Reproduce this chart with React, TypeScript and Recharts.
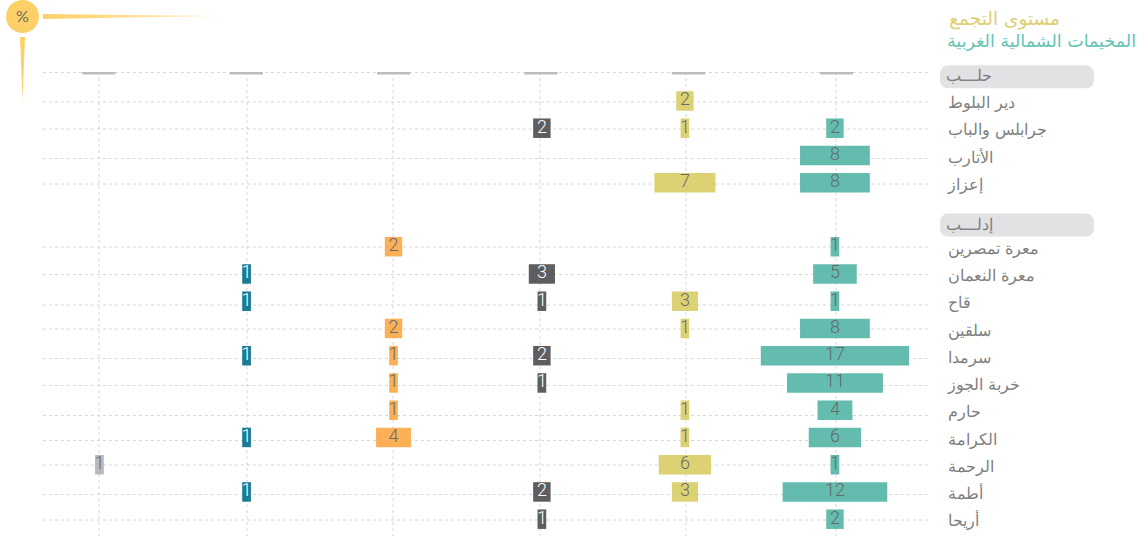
import { Bar, BarChart, CartesianGrid, LabelList, ReferenceLine, XAxis, YAxis } from "recharts";

const rowNames = [
  "حلـــب",
  "دير البلوط",
  "جرابلس والباب",
  "الأتارب",
  "إعزاز",
  "إدلـــب",
  "معرة تمصرين",
  "معرة النعمان",
  "قاح",
  "سلقين",
  "سرمدا",
  "خربة الجوز",
  "حارم",
  "الكرامة",
  "الرحمة",
  "أطمة",
  "أريحا"
];
const headerNames = ["حلـــب", "إدلـــب"];
const rowPositions = [0, 1, 2, 3, 4, 5.44, 6.35, 7.35, 8.35, 9.35, 10.35, 11.35, 12.35, 13.35, 14.35, 15.35, 16.35];

const column1 = [null, null, null, null, null, null, null, null, null, null, null, null, null, null, 1, null, null];
const column2 = [null, null, null, null, null, null, null, 1, 1, null, 1, null, null, 1, null, 1, null];
const column3 = [null, null, null, null, null, null, 2, null, null, 2, 1, 1, 1, 4, null, null, null];
const column4 = [null, null, 2, null, null, null, null, 3, 1, null, 2, 1, null, null, null, 2, 1];
const column5 = [null, 2, 1, null, 7, null, null, null, 3, 1, null, null, 1, 1, 6, 3, null];
const column6 = [null, null, 2, 8, 8, null, 1, 5, 1, 8, 17, 11, 4, 6, 1, 12, 2];
const columns = [column1, column2, column3, column4, column5, column6];

const columnColors = ["#b9b9bb", "#1b7b93", "#fbb058", "#5e5e60", "#dcd274", "#64bcae"];
const labelColors = ["#6a6a6a", "#ffffff", "#6a6a6a", "#ffffff", "#6a6a6a", "#626a6a"];

// centre of each small multiple, in x units (one unit = one camp)
const columnCenters = [6.47, 23.34, 40.19, 57.2, 73.6, 90.8];
const headerCenters = [6.4, 23.3, 40.2, 57.1, 74, 91];
const headerWidth = 3.8;

const gridRows = [72.5, 102, 129, 158.5, 184, 247, 274.5, 305, 329, 358.5, 385.5, 415.5, 440.5, 465, 494.5, 520];
const gridColumns = [99, 247, 393, 540, 686, 836];

const table = rowNames.map((name, i) => {
  const entry: Record<string, unknown> = { name, row: rowPositions[i] };
  columns.forEach((col, c) => {
    const v = col[i];
    entry[`v${c}`] = v;
    entry[`r${c}`] = v == null ? null : [columnCenters[c] - v / 2, columnCenters[c] + v / 2];
  });
  return entry;
});

const yDomain: [number, number] = [-0.05, 16.98];
const textFont = "'DejaVu Sans', 'Noto Sans', sans-serif";

function RowTick({ y, payload }: any) {
  const name = rowNames[rowPositions.indexOf(payload.value)];
  const isHeader = headerNames.includes(name);
  return (
    <g>
      {isHeader && <rect x={940} y={y - 8} width={154} height={23} rx={8} fill="#e2e2e4" />}
      <text
        x={isHeader ? 946 : 948}
        y={isHeader ? y + 8 : y + 7.5}
        textAnchor="start"
        fontSize={15.5}
        fontFamily={textFont}
        fontWeight={200}
        fill="#7f7f7f"
      >
        {name}
      </text>
    </g>
  );
}

export default function App() {
  return (
    <div style={{ position: "absolute", left: 0, top: 0, width: 1143, height: 536, background: "#fff", overflow: "hidden" }}>
      <BarChart
        width={1143}
        height={536}
        data={table}
        layout="vertical"
        margin={{ top: 72, right: 0, bottom: 0, left: 43 }}
      >
        <CartesianGrid
          yAxisId={0}
          stroke="#d6d6d6"
          strokeDasharray="3 3"
          horizontalPoints={gridRows}
          verticalPoints={gridColumns}
        />
        <XAxis type="number" domain={[0, 101.7]} hide />
        <YAxis
          yAxisId={0}
          type="number"
          dataKey="row"
          orientation="right"
          width={213}
          domain={yDomain}
          ticks={rowPositions}
          interval={0}
          tick={<RowTick />}
          tickLine={false}
          axisLine={false}
        />
        {columns.map((_, c) => (
          <YAxis key={c} yAxisId={c + 1} type="number" dataKey="row" hide domain={yDomain} />
        ))}
        {headerCenters.map((center) => (
          <ReferenceLine
            key={center}
            yAxisId={0}
            segment={[
              { x: center - headerWidth / 2, y: 0 },
              { x: center + headerWidth / 2, y: 0 }
            ]}
            stroke="#bcbcbc"
            strokeWidth={2.5}
          />
        ))}
        {columns.map((_, c) => (
          <Bar
            key={c}
            yAxisId={c + 1}
            dataKey={`r${c}`}
            fill={columnColors[c]}
            barSize={19.5}
            isAnimationActive={false}
          >
            <LabelList
              dataKey={`v${c}`}
              position="center"
              dy={-2}
              fontSize={18}
              fontFamily="Roboto, Lato, sans-serif"
              fontWeight={300}
              fill={labelColors[c]}
            />
          </Bar>
        ))}
      </BarChart>

      <div style={{ position: "absolute", right: 83, top: 8, fontFamily: textFont, fontSize: 18.5, color: "#ddd070", direction: "rtl", whiteSpace: "nowrap" }}>
        مستوى التجمع
      </div>
      <div style={{ position: "absolute", right: 7, top: 31, fontFamily: textFont, fontSize: 17.5, color: "#64c4b4", direction: "rtl", whiteSpace: "nowrap" }}>
        المخيمات الشمالية الغربية
      </div>

      <svg width={240} height={110} style={{ position: "absolute", left: 0, top: 0 }}>
        <defs>
          <linearGradient id="spikeH" x1="0" x2="1" y1="0" y2="0">
            <stop offset="0" stopColor="#fdd067" />
            <stop offset="1" stopColor="#fdd067" stopOpacity={0.35} />
          </linearGradient>
        </defs>
        <circle cx={22.5} cy={16.5} r={16.5} fill="#fdd067" />
        <text x={22.5} y={22} textAnchor="middle" fontSize={16} fontFamily="Lato, sans-serif" fill="#6a6a6a">
          %
        </text>
        <polygon points="43,14 43,19 222,16" fill="url(#spikeH)" />
        <polygon points="20,37 25,37 22.5,100" fill="#fdd067" />
      </svg>
    </div>
  );
}
